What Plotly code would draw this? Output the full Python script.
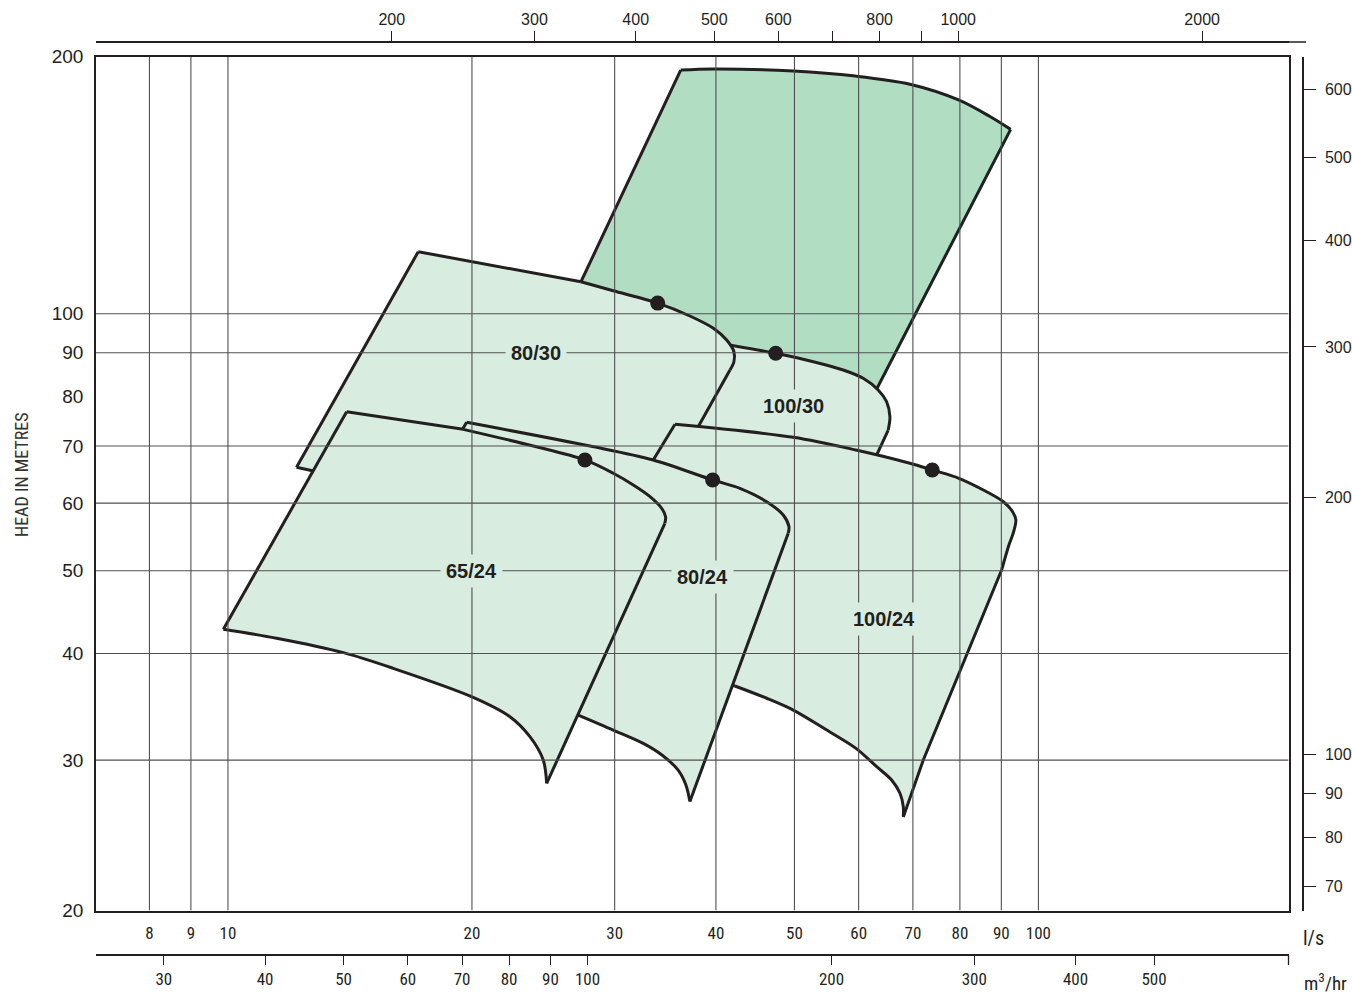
import math
import plotly.graph_objects as go

# ---------------- data (flow in l/s, head in m) ----------------
upper_q = [36.19, 39.63, 49.83, 59.43, 69.41, 79.70, 87.14, 92.41, 60.35, 42.82, 25.90]
upper_h = [192.9, 193.5, 192.4, 189.8, 185.7, 178.0, 170.2, 164.4, 75.07, 81.42, 98.32]

p100_30_q = [37.15, 42.22, 47.41, 52.76, 57.43, 60.78, 63.43, 64.96, 65.58, 65.26, 59.52, 38.23, 34.12]
p100_30_h = [93.65, 91.65, 89.87, 87.86, 85.92, 84.02, 81.42, 78.88, 75.74, 73.07, 60.51, 62.16, 63.86]

p80_30_q = [17.17, 20.07, 27.26, 29.88, 33.90, 37.15, 39.71, 41.24, 42.10, 42.10, 41.63, 32.79, 24.96, 16.30, 12.15]
p80_30_h = [118.2, 115.0, 109.0, 106.4, 102.9, 99.39, 96.15, 93.15, 90.26, 87.86, 85.92, 57.34, 55.82, 62.16, 66.09]

p100_24_q = [35.61, 49.83, 59.55, 69.41, 73.96, 79.78, 86.33, 90.52, 92.93, 93.79, 93.09, 91.96, 90.07,
             72.10, 68.12, 68.12, 67.48, 65.89, 63.15, 59.55, 54.80, 49.83, 46.20, 42.22, 32.23, 24.52]
p100_24_h = [74.21, 71.66, 69.24, 66.81, 65.61, 64.16, 61.87, 60.23, 58.63, 57.34, 55.33, 53.60, 50.10,
             30.01, 25.74, 26.46, 27.44, 28.44, 29.48, 30.97, 32.54, 34.34, 35.45, 36.64, 39.31, 41.48]

p80_24_q = [19.70, 27.97, 33.47, 39.63, 42.82, 46.20, 48.43, 49.22, 49.12, 37.15, 36.73, 35.91, 34.31,
            32.54, 29.88, 27.05, 22.93, 17.75, 14.70]
p80_24_h = [74.61, 69.99, 67.41, 63.86, 62.45, 60.23, 58.11, 56.32, 55.33, 26.83, 28.06, 29.22, 30.42,
            31.39, 32.54, 33.88, 37.24, 42.05, 46.20]

p65_24_q = [14.01, 19.51, 23.81, 27.57, 29.88, 31.63, 33.17, 34.28, 34.67, 34.60, 24.73, 24.49, 23.58,
            22.28, 20.07, 15.99, 13.88, 11.48, 9.87]
p65_24_h = [76.77, 73.21, 69.99, 67.41, 65.03, 63.01, 61.06, 59.18, 57.85, 56.83, 28.18, 30.01, 31.96,
            33.73, 35.54, 38.43, 40.09, 41.68, 42.70]

# best efficiency points (dots)
bep_q = [33.90, 47.41, 27.57, 39.63, 73.96]
bep_h = [102.9, 89.87, 67.41, 63.86, 65.61]

# model labels
label_text = ["80/30", "100/30", "65/24", "80/24", "100/24"]
label_q = [24.0, 49.8, 20.0, 38.5, 64.5]
label_h = [90.0, 78.0, 50.0, 49.1, 43.9]

# axis ticks
ls_ticks = [8, 9, 10, 20, 30, 40, 50, 60, 70, 80, 90, 100]
m3h_ticks = [30, 40, 50, 60, 70, 80, 90, 100, 200, 300, 400, 500]
top_ticks = [200, 300, 400, 500, 600, 800, 1000, 2000]
top_unlabelled_ticks = [700, 900]
head_ticks = [20, 30, 40, 50, 60, 70, 80, 90, 100, 200]
feet_ticks = [70, 80, 90, 100, 200, 300, 400, 500, 600]
grid_q = [8, 9, 10, 20, 30, 40, 50, 60, 70, 80, 90, 100]
grid_h = [30, 40, 50, 60, 70, 90, 100]

# scale conversions
M3H_PER_LS = 3.6
M_PER_FT = 0.3048
TOP_PER_LS = 12.56

# plotted extents
Q_MIN, Q_MAX = 6.873, 203.5
H_MIN, H_MAX = 20, 200

# ---------------- styling ----------------
W, H = 1352, 995
INK = "#231f20"
LIGHT = "#d8ece0"
DARK = "#b1ddc3"
GRID = "#505050"
FONT = "Liberation Sans, Arial, sans-serif"
NARROW = "Liberation Sans Narrow, Arial Narrow, Roboto Condensed, Liberation Sans, sans-serif"

XD = [96 / W, 1288.5 / W]
YD = [1 - 910.5 / H, 1 - 56.7 / H]
L = math.log10

# outline pieces of each region: (from index, to index, smooth curve?)
regions = [
    (upper_q, upper_h, DARK, [(0, 7, True), (7, 8, False), (8, 10, False), (10, 0, False)]),
    (p100_30_q, p100_30_h, LIGHT, [(0, 1, False), (1, 9, True), (9, 10, False), (10, 0, False)]),
    (p80_30_q, p80_30_h, LIGHT, [(0, 2, False), (2, 10, True), (10, 11, False), (11, 14, False), (14, 0, False)]),
    (p100_24_q, p100_24_h, LIGHT, [(0, 12, True), (12, 14, False), (14, 23, True), (23, 25, False), (25, 0, False)]),
    (p80_24_q, p80_24_h, LIGHT, [(0, 8, True), (8, 9, False), (9, 15, True), (15, 18, False), (18, 0, False)]),
    (p65_24_q, p65_24_h, LIGHT, [(0, 1, False), (1, 9, True), (9, 10, False), (10, 18, True), (18, 0, False)]),
]


def piece(q, h, a, b):
    n = len(q)
    idx = [a]
    i = a
    while i != b:
        i = (i + 1) % n
        idx.append(i)
    return [q[k] for k in idx], [h[k] for k in idx]


fig = go.Figure()
for q, h, col, pieces in regions:
    fig.add_trace(go.Scatter(
        x=q + [q[0]], y=h + [h[0]], mode="lines", fill="toself", fillcolor=col,
        line=dict(width=0, color=col), hoverinfo="skip", showlegend=False))
    for a, b, smooth in pieces:
        px_, py_ = piece(q, h, a, b)
        fig.add_trace(go.Scatter(
            x=px_, y=py_, mode="lines",
            line=dict(color=INK, width=3, shape="spline" if smooth else "linear", smoothing=0.9),
            hoverinfo="skip", showlegend=False))

# gridlines (drawn above the fills, as in the original)
gx, gy = [], []
for q in grid_q:
    gx += [q, q, None]
    gy += [H_MIN, H_MAX, None]
for h in grid_h:
    gx += [Q_MIN, Q_MAX, None]
    gy += [h, h, None]
fig.add_trace(go.Scatter(x=gx, y=gy, mode="lines", line=dict(color=GRID, width=1.1),
                         hoverinfo="skip", showlegend=False))

fig.add_trace(go.Scatter(x=bep_q, y=bep_h, mode="markers",
                         marker=dict(size=15, color=INK), hoverinfo="skip", showlegend=False))

# invisible anchors so that the secondary scales are drawn
fig.add_trace(go.Scatter(x=[Q_MIN * M3H_PER_LS], y=[H_MIN], xaxis="x2", yaxis="y", mode="markers",
                         marker=dict(opacity=0), hoverinfo="skip", showlegend=False))
fig.add_trace(go.Scatter(x=[Q_MIN * TOP_PER_LS], y=[H_MIN], xaxis="x3", yaxis="y", mode="markers",
                         marker=dict(opacity=0), hoverinfo="skip", showlegend=False))
fig.add_trace(go.Scatter(x=[Q_MIN], y=[H_MIN / M_PER_FT], xaxis="x", yaxis="y2", mode="markers",
                         marker=dict(opacity=0), hoverinfo="skip", showlegend=False))

for t, q, h in zip(label_text, label_q, label_h):
    fig.add_annotation(x=L(q), y=L(h), xref="x", yref="y", text="<b>%s</b>" % t,
                       showarrow=False, bgcolor=LIGHT, borderpad=5,
                       xanchor="center", yanchor="middle",
                       font=dict(family=FONT, size=20, color=INK))

fig.update_layout(
    width=W, height=H, margin=dict(l=0, r=0, t=0, b=0, pad=0), autosize=False,
    paper_bgcolor="white", plot_bgcolor="rgba(0,0,0,0)", showlegend=False,
    xaxis=dict(type="log", domain=XD, range=[L(Q_MIN), L(Q_MAX)],
               tickmode="array", tickvals=ls_ticks, ticktext=[str(v) for v in ls_ticks],
               ticks="", ticklabelstandoff=6, showgrid=False, zeroline=False, automargin=False,
               showline=True, mirror=True, linecolor=INK, linewidth=1.5,
               tickfont=dict(family=NARROW, size=17, color=INK)),
    yaxis=dict(type="log", domain=YD, range=[L(H_MIN), L(H_MAX)],
               tickmode="array", tickvals=head_ticks, ticktext=[str(v) for v in head_ticks],
               ticks="", ticklabelstandoff=7, showgrid=False, zeroline=False, automargin=False,
               showline=True, mirror=True, linecolor=INK, linewidth=1.5,
               tickfont=dict(family=FONT, size=19, color=INK)),
    xaxis2=dict(type="log", overlaying="x", anchor="free", position=1 - 955 / H, side="bottom",
                range=[L(Q_MIN * M3H_PER_LS), L(Q_MAX * M3H_PER_LS)], automargin=False,
                tickmode="array", tickvals=m3h_ticks, ticktext=[str(v) for v in m3h_ticks],
                ticks="outside", ticklen=9, tickwidth=1.3, tickcolor=INK,
                showline=True, linecolor=INK, linewidth=1.5, showgrid=False, zeroline=False,
                tickfont=dict(family=NARROW, size=17, color=INK)),
    xaxis3=dict(type="log", overlaying="x", anchor="free", position=1 - 42 / H, side="top",
                range=[L(Q_MIN * TOP_PER_LS), L(Q_MAX * TOP_PER_LS)], automargin=False,
                tickmode="array", tickvals=top_ticks, ticktext=[str(v) for v in top_ticks],
                ticks="outside", ticklen=10, tickwidth=1.3, tickcolor=INK,
                minor=dict(tickmode="array", tickvals=top_unlabelled_ticks, ticks="outside",
                           ticklen=10, tickwidth=1.3, tickcolor=INK, showgrid=False),
                showline=True, linecolor=INK, linewidth=1.5, showgrid=False, zeroline=False,
                tickfont=dict(family=FONT, size=16, color=INK)),
    yaxis2=dict(type="log", overlaying="y", anchor="free", position=1303 / W, side="right",
                range=[L(H_MIN / M_PER_FT), L(H_MAX / M_PER_FT)], automargin=False,
                tickmode="array", tickvals=feet_ticks, ticktext=[str(v) for v in feet_ticks],
                ticks="outside", ticklen=12, tickwidth=1.3, tickcolor=INK, ticklabelstandoff=6,
                showline=True, linecolor=INK, linewidth=1.5, showgrid=False, zeroline=False,
                tickfont=dict(family=FONT, size=16, color=INK)),
    shapes=[
        dict(type="line", xref="paper", yref="paper", x0=XD[1], x1=1306 / W,
             y0=1 - 42 / H, y1=1 - 42 / H, line=dict(color=INK, width=1.5)),
        dict(type="line", xref="paper", yref="paper", x0=XD[1], x1=XD[1],
             y0=1 - 955 / H, y1=1 - 965 / H, line=dict(color=INK, width=1.3)),
    ],
)

fig.add_annotation(x=22 / W, y=1 - 475 / H, xref="paper", yref="paper", text="HEAD IN METRES",
                   textangle=-90, showarrow=False, xanchor="center", yanchor="middle",
                   font=dict(family=NARROW, size=18, color="#333333"))
fig.add_annotation(x=1313 / W, y=1 - 938 / H, xref="paper", yref="paper", text="l/s",
                   showarrow=False, xanchor="center", yanchor="middle",
                   font=dict(family=NARROW, size=20, color=INK))
fig.add_annotation(x=1325 / W, y=1 - 982 / H, xref="paper", yref="paper", text="m<sup>3</sup>/hr",
                   showarrow=False, xanchor="center", yanchor="middle",
                   font=dict(family=NARROW, size=19, color=INK))

fig.write_html("out.html", config={"displayModeBar": False},
               post_script="document.body.style.margin='0';")
